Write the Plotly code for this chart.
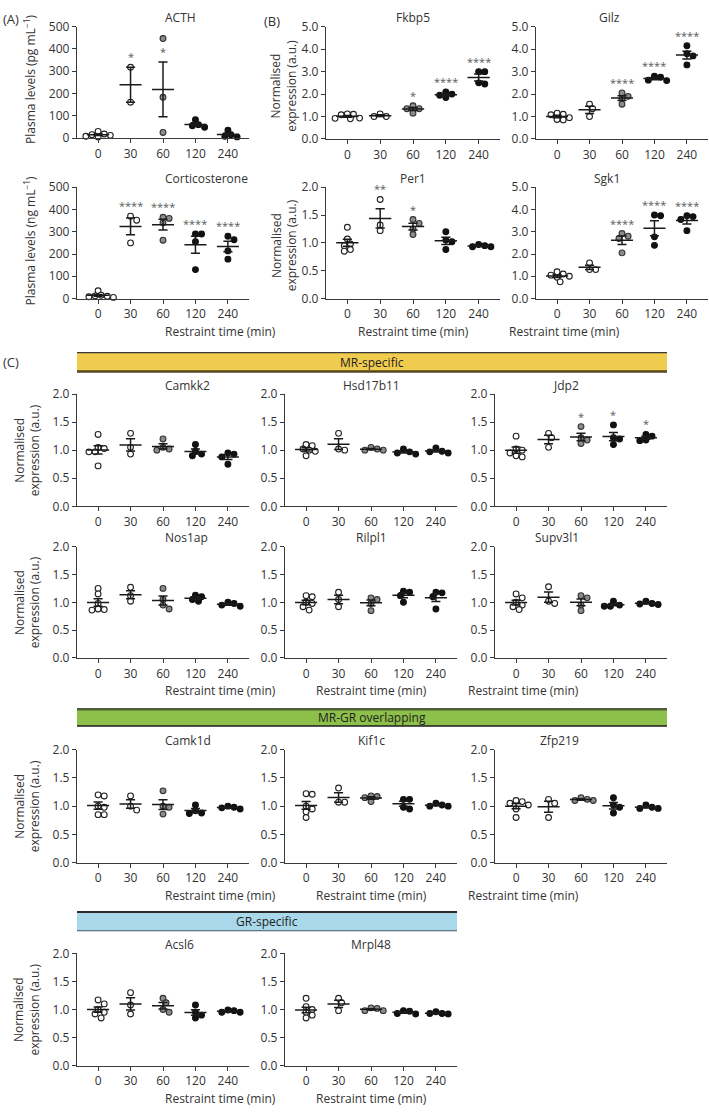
import numpy as np
import plotly.graph_objects as go

W, H = 709, 1115
TIMES = ["0", "30", "60", "120", "240"]

# ---------------- data ----------------
ACTH = [[30, 18, 12, 8, 15, 5], [318, 161], [447, 183, 25], [82, 55, 60, 48], [35, 15, 8, 5]]
CORT = [[35, 15, 10, 5, 12, 8], [370, 352, 250], [360, 365, 340, 262], [290, 290, 255, 130], [280, 264, 214, 177]]
FKBP5 = [[1.12, 1.10, 1.08, 0.93, 0.92, 0.90], [1.12, 1.00, 1.00], [1.48, 1.35, 1.35, 1.15],
         [2.10, 2.00, 1.95, 1.85], [3.00, 3.00, 2.50, 2.45]]
GILZ = [[1.15, 1.10, 1.08, 0.95, 0.85, 0.87], [1.55, 1.35, 1.00], [2.05, 1.90, 1.80, 1.55],
        [2.80, 2.75, 2.62, 2.60], [4.15, 3.80, 3.70, 3.30]]
PER1 = [[1.28, 1.07, 0.98, 0.95, 0.88, 0.85], [1.78, 1.32, 1.22], [1.42, 1.35, 1.25, 1.15],
        [1.20, 1.05, 1.02, 0.88], [0.97, 0.93, 0.93, 0.95]]
SGK1 = [[1.20, 1.10, 1.05, 1.00, 0.95, 0.75], [1.60, 1.30, 1.30], [2.92, 2.80, 2.70, 2.05],
        [3.75, 3.72, 2.77, 2.39], [3.72, 3.68, 3.55, 3.05]]

CAMKK2 = [[1.28, 1.05, 1.03, 0.97, 0.97, 0.72], [1.30, 1.05, 0.93], [1.20, 1.05, 1.02, 1.00],
          [1.10, 0.98, 0.93, 0.90], [0.95, 0.93, 0.88, 0.75]]
HSD17B11 = [[1.10, 1.08, 1.02, 1.00, 0.98, 0.90], [1.30, 1.02, 1.00], [1.02, 1.00, 1.00, 1.05],
            [0.97, 0.93, 0.95, 1.02], [0.98, 0.97, 0.95, 1.04]]
JDP2 = [[1.25, 1.02, 1.00, 0.95, 0.90, 0.88], [1.30, 1.22, 1.05], [1.42, 1.22, 1.18, 1.12],
        [1.45, 1.22, 1.20, 1.10], [1.28, 1.25, 1.18, 1.17]]
NOS1AP = [[1.25, 1.15, 0.98, 0.88, 0.87, 0.86], [1.27, 1.12, 1.02], [1.25, 1.05, 0.95, 0.88],
          [1.13, 1.10, 1.05, 1.02], [1.00, 0.98, 0.95, 0.93]]
RILPL1 = [[1.12, 1.10, 1.00, 0.98, 0.92, 0.86], [1.18, 1.05, 0.92], [1.08, 1.05, 0.98, 0.85],
          [1.20, 1.18, 1.12, 1.00], [1.18, 1.17, 1.10, 0.88]]
SUPV3L1 = [[1.15, 1.08, 1.00, 0.95, 0.92, 0.87], [1.28, 1.02, 0.98], [1.12, 1.08, 0.95, 0.85],
           [1.02, 0.95, 0.93, 0.93], [1.02, 0.98, 0.97, 0.96]]
CAMK1D = [[1.20, 1.18, 1.00, 0.98, 0.85, 0.85], [1.18, 1.00, 0.93], [1.27, 1.00, 0.98, 0.86],
          [1.02, 0.92, 0.88, 0.87], [1.00, 0.98, 0.97, 0.95]]
KIF1C = [[1.22, 1.21, 1.00, 0.95, 0.90, 0.80], [1.32, 1.07, 1.07], [1.18, 1.17, 1.15, 1.08],
         [1.12, 1.12, 0.98, 0.95], [1.05, 1.02, 1.00, 1.00]]
ZFP219 = [[1.10, 1.08, 1.05, 1.02, 0.95, 0.80], [1.12, 1.05, 0.80], [1.15, 1.12, 1.10, 1.10],
          [1.15, 1.02, 0.98, 0.88], [1.02, 0.98, 0.96, 0.96]]
ACSL6 = [[1.17, 1.10, 1.00, 0.95, 0.92, 0.85], [1.30, 1.08, 0.92], [1.20, 1.12, 1.00, 0.95],
         [1.08, 0.95, 0.90, 0.85], [0.99, 0.98, 0.95, 0.95]]
MRPL48 = [[1.20, 1.05, 1.00, 0.95, 0.90, 0.85], [1.20, 1.12, 0.98], [1.03, 1.02, 0.98, 0.98],
          [0.98, 0.97, 0.93, 0.92], [0.96, 0.93, 0.93, 0.92]]

NOSTAR = ["", "", "", "", ""]
ACTH_STARS = ["", "*", "*", "", ""]
CORT_STARS = ["", "****", "****", "****", "****"]
FKBP5_STARS = ["", "", "*", "****", "****"]
GILZ_STARS = ["", "", "****", "****", "****"]
PER1_STARS = ["", "**", "*", "", ""]
SGK1_STARS = ["", "", "****", "****", "****"]
JDP2_STARS = ["", "", "*", "*", "*"]

# ---------------- styling ----------------
FONT = "Open Sans"
TXT = "#333333"
AX = "#3a3a3a"
FILL = ["white", "white", "#8c8c8c", "#111111", "#111111"]
EDGE = ["#222222", "#222222", "#333333", "#111111", "#111111"]
XR = [-0.65, 4.65]
NORM = "Normalised<br>expression (a.u.)"

C_ROWS = [(391, 505), (546, 659), (752, 867), (959, 1073)]
C_COLS = [(77, 249), (285, 457), (495, 667)]

panels = [
    dict(t="ACTH", d=ACTH, s=ACTH_STARS, box=(77, 249, 18, 131), ym=500, dt=100, f="d", xl=False, star_ref="sem"),
    dict(t="Corticosterone", d=CORT, s=CORT_STARS, box=(77, 249, 181, 294), ym=500, dt=100, f="d", xl=True),
    dict(t="Fkbp5", d=FKBP5, s=FKBP5_STARS, box=(326, 500, 18, 132), ym=5, dt=1, f=".1f", xl=False),
    dict(t="Gilz", d=GILZ, s=GILZ_STARS, box=(536, 708, 18, 132), ym=5, dt=1, f=".1f", xl=False),
    dict(t="Per1", d=PER1, s=PER1_STARS, box=(326, 500, 181, 294), ym=2, dt=0.5, f=".1f", xl=True),
    dict(t="Sgk1", d=SGK1, s=SGK1_STARS, box=(536, 708, 181, 294), ym=5, dt=1, f=".1f", xl=True),
]
c_specs = [
    [("Camkk2", CAMKK2, NOSTAR), ("Hsd17b11", HSD17B11, NOSTAR), ("Jdp2", JDP2, JDP2_STARS)],
    [("Nos1ap", NOS1AP, NOSTAR), ("Rilpl1", RILPL1, NOSTAR), ("Supv3l1", SUPV3L1, NOSTAR)],
    [("Camk1d", CAMK1D, NOSTAR), ("Kif1c", KIF1C, NOSTAR), ("Zfp219", ZFP219, NOSTAR)],
    [("Acsl6", ACSL6, NOSTAR), ("Mrpl48", MRPL48, NOSTAR)],
]
for r, row in enumerate(c_specs):
    for c, (t, d, s) in enumerate(row):
        x0, x1 = C_COLS[c]
        y0, y1 = C_ROWS[r]
        panels.append(dict(t=t, d=d, s=s, box=(x0, x1, y0, y1), ym=2, dt=0.5, f=".1f", xl=(r > 0)))


def px(x):
    return x / W


def py(y):
    return 1 - y / H


def swarm(vals, ppx, ppy, diam):
    vals = np.asarray(vals, float)
    order = np.argsort(-vals, kind="stable")
    placed = []
    offs = np.zeros(len(vals))
    for i in order:
        yv = vals[i] * ppy
        for k in range(40):
            cand = 0 if k == 0 else ((k + 1) // 2) * (1 if k % 2 else -1)
            xo = cand * diam * 0.45
            if all((xo - a) ** 2 + (yv - b) ** 2 >= (diam * 0.78) ** 2 for a, b in placed):
                break
        placed.append((xo, yv))
        offs[i] = xo / ppx
    return offs


fig = go.Figure()
annotations = []
layout = {}
DIAM = 6.8

for i, p in enumerate(panels):
    n = i + 1
    xa, ya = f"x{n}", f"y{n}"
    x0, x1, y0, y1 = p["box"]
    ppx = (x1 - x0) / (XR[1] - XR[0])
    ppy = (y1 - y0) / p["ym"]
    tickvals = list(np.arange(0, p["ym"] + 1e-9, p["dt"]))
    layout[f"xaxis{n}"] = dict(
        domain=[px(x0), px(x1)], anchor=ya, range=XR, tickvals=[0, 1, 2, 3, 4], ticktext=TIMES,
        showline=True, linecolor=AX, linewidth=1.3, ticks="outside", ticklen=4, tickwidth=1.2,
        tickcolor=AX, showgrid=False, zeroline=False, fixedrange=True,
        tickfont=dict(size=12, color=TXT, family=FONT))
    layout[f"yaxis{n}"] = dict(
        domain=[py(y1), py(y0)], anchor=xa, range=[0, p["ym"]], tickvals=tickvals, tickformat=p["f"],
        showline=True, linecolor=AX, linewidth=1.3, ticks="outside", ticklen=4, tickwidth=1.2,
        tickcolor=AX, showgrid=False, zeroline=False, fixedrange=True,
        tickfont=dict(size=12, color=TXT, family=FONT))

    lx, ly = [], []
    for g, vals in enumerate(p["d"]):
        v = np.asarray(vals, float)
        m = v.mean()
        sem = v.std(ddof=1) / np.sqrt(len(v))
        offs = swarm(v, ppx, ppy, DIAM)
        fig.add_trace(go.Scatter(
            x=g + offs, y=v, mode="markers", xaxis=xa, yaxis=ya, cliponaxis=False, showlegend=False,
            marker=dict(size=5.8, color=FILL[g], line=dict(color=EDGE[g], width=1.1)),
            hoverinfo="skip"))
        # mean line, error bar and caps
        lx += [g - 0.34, g + 0.34, None, g, g, None, g - 0.14, g + 0.14, None, g - 0.14, g + 0.14, None]
        ly += [m, m, None, m - sem, m + sem, None, m + sem, m + sem, None, m - sem, m - sem, None]
        if p["s"][g]:
            top = m + sem if p.get("star_ref") == "sem" else max(v.max(), m + sem)
            annotations.append(dict(
                x=g, y=top, xref=xa, yref=ya, text=p["s"][g], showarrow=False, yanchor="bottom",
                yshift=1, font=dict(size=11, color="#5a5a5a", family=FONT)))
    fig.add_trace(go.Scatter(x=lx, y=ly, mode="lines", xaxis=xa, yaxis=ya, cliponaxis=False,
                             showlegend=False, line=dict(color="#1a1a1a", width=1.5), hoverinfo="skip"))

    # panel title
    annotations.append(dict(x=px((x0 + x1) / 2), y=py(y0 - 9), xref="paper", yref="paper", text=p["t"],
                            showarrow=False, yanchor="middle", font=dict(size=12, color=TXT, family=FONT)))
    if p["xl"]:
        annotations.append(dict(x=px((x0 + x1) / 2), y=py(y1 + 33), xref="paper", yref="paper",
                                text="Restraint time (min)", showarrow=False, yanchor="middle",
                                font=dict(size=12, color=TXT, family=FONT)))

# y axis titles
def ytitle(x, y, text):
    annotations.append(dict(x=px(x), y=py(y), xref="paper", yref="paper", text=text, showarrow=False,
                            textangle=-90, xanchor="center", yanchor="middle",
                            font=dict(size=12, color=TXT, family=FONT)))

ytitle(30, 72, "Plasma levels (pg mL<sup>−1</sup>)")
ytitle(30, 236, "Plasma levels (ng mL<sup>−1</sup>)")
ytitle(284, 78, NORM)
ytitle(284, 240, NORM)
for (y0, y1) in C_ROWS:
    ytitle(27, (y0 + y1) / 2, NORM)

# panel letters
for (x, y, t) in [(1, 10, "(A)"), (262, 12, "(B)"), (1, 358, "(C)")]:
    annotations.append(dict(x=px(x), y=py(y), xref="paper", yref="paper", text=t, showarrow=False,
                            xanchor="left", yanchor="middle", font=dict(size=13, color=TXT, family=FONT)))

# category bands
shapes = []
bands = [
    ((77, 667, 349, 368), "#F0CC4E", "#3a3a3a", 1.2, "#55461c", 2.5, "MR-specific"),
    ((77, 667, 711, 728), "#8CC04A", "#4d5e3a", 2.5, "#1e1e1e", 1.5, "MR-GR overlapping"),
    ((77, 457, 917, 936), "#A8D8EA", "#2a2a2a", 2.0, "#3d5566", 1.2, "GR-specific"),
]
for (x0, x1, y0, y1), fill, tc, tw, bc, bw, label in bands:
    shapes.append(dict(type="rect", xref="paper", yref="paper", x0=px(x0), x1=px(x1), y0=py(y1), y1=py(y0),
                       fillcolor=fill, line=dict(width=0), layer="below"))
    shapes.append(dict(type="line", xref="paper", yref="paper", x0=px(x0), x1=px(x1), y0=py(y0), y1=py(y0),
                       line=dict(color=tc, width=tw)))
    shapes.append(dict(type="line", xref="paper", yref="paper", x0=px(x0), x1=px(x1), y0=py(y1), y1=py(y1),
                       line=dict(color=bc, width=bw)))
    annotations.append(dict(x=px((x0 + x1) / 2), y=py((y0 + y1) / 2), xref="paper", yref="paper", text=label,
                            showarrow=False, yanchor="middle", font=dict(size=12, color="#222222", family=FONT)))

fig.update_layout(
    width=W, height=H, autosize=False, margin=dict(l=0, r=0, t=0, b=0),
    paper_bgcolor="white", plot_bgcolor="white", showlegend=False,
    font=dict(family=FONT, color=TXT, size=12),
    annotations=annotations, shapes=shapes, **layout)

fig.write_html("out.html", config={"displayModeBar": False},
               post_script="document.body.style.margin='0';document.body.style.overflow='hidden';")
